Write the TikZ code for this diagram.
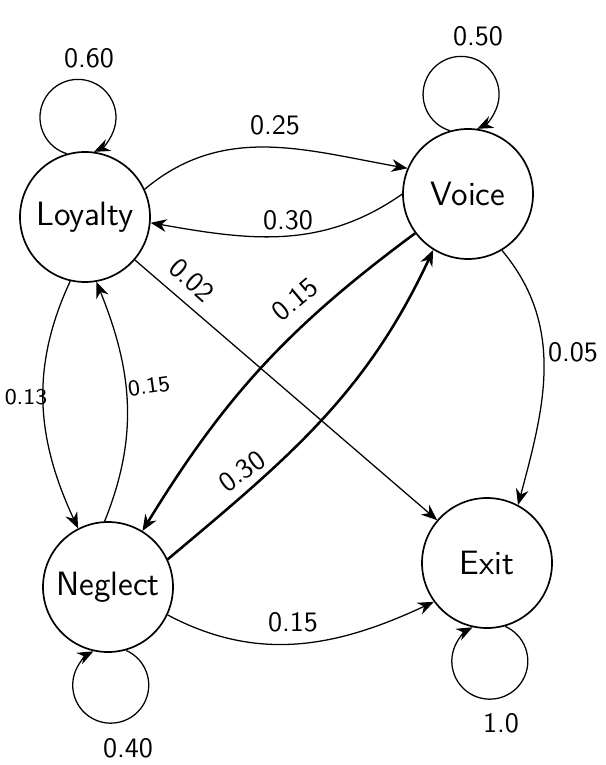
\documentclass[tikz,border=0pt]{standalone}
\usepackage{tikz}
\usetikzlibrary{arrows.meta}

\begin{document}
\begin{tikzpicture}[scale=1.25, font=\sffamily,
    state/.style={circle, draw, line width=0.6pt, minimum size=1.625cm, inner sep=0pt, font=\sffamily\large},
    trans/.style={-{Stealth[length=2mm,width=1.6mm]}, line width=0.45pt},
    transb/.style={trans, line width=0.9pt},
    prob/.style={inner sep=1pt}]
    \useasboundingbox (0,0) rectangle (6.06,-7.65);

    % states
    \node[state] (L) at (0.85,-2.17) {Loyalty};
    \node[state] (V) at (4.68,-1.94) {Voice};
    \node[state] (N) at (1.08,-5.87) {Neglect};
    \node[state] (E) at (4.87,-5.63) {Exit};

    % self loops
    \draw[trans] (L.106) arc[start angle=253, end angle=-65, radius=0.38];
    \draw[trans] (V.106) arc[start angle=253, end angle=-65, radius=0.38];
    \draw[trans] (N.-74) arc[start angle=66, end angle=-243, radius=0.38];
    \draw[trans] (E.-74) arc[start angle=66, end angle=-243, radius=0.38];

    \node[prob] (pLL) at (0.89,-0.58) {0.60};
    \node[prob] (pVV) at (4.78,-0.36) {0.50};
    \node[prob] (pNN) at (1.28,-7.48) {0.40};
    \node[prob] (pEE) at (5.01,-7.23) {1.0};

    % transitions
    \draw[trans] (L.25) to[out=40,in=170] (V.157);
    \draw[trans] (V.180) to[out=215,in=-10] (L.-5);
    \draw[trans] (L) -- (E);
    \draw[trans] (L.257) to[out=245,in=115] (N.117);
    \draw[trans] (N.93) to[out=68,in=-68] (L.-80);
    \draw[transb] (V) to[bend right=11] (N);
    \draw[transb] (N.25) to[out=40,in=245] (V.238);
    \draw[trans] (V.-59) to[out=-50,in=75] (E.62);
    \draw[trans] (N.-25) to[out=-28,in=205] (E.216);

    \node[prob] (pLV) at (2.75,-1.25) {0.25};
    \node[prob] (pVL) at (2.88,-2.20) {0.30};
    \node[prob, rotate=-42] (pLE) at (1.92,-2.80) {0.02};
    \node[prob, font=\sffamily\footnotesize] (pLN) at (0.26,-3.97) {0.13};
    \node[prob, font=\sffamily\footnotesize, rotate=8] (pNL) at (1.49,-3.86) {0.15};
    \node[prob, rotate=40] (pVN) at (2.95,-2.99) {0.15};
    \node[prob, rotate=36] (pNV) at (2.42,-4.71) {0.30};
    \node[prob] (pVE) at (5.73,-3.52) {0.05};
    \node[prob] (pNE) at (2.93,-6.22) {0.15};
\end{tikzpicture}
\end{document}
